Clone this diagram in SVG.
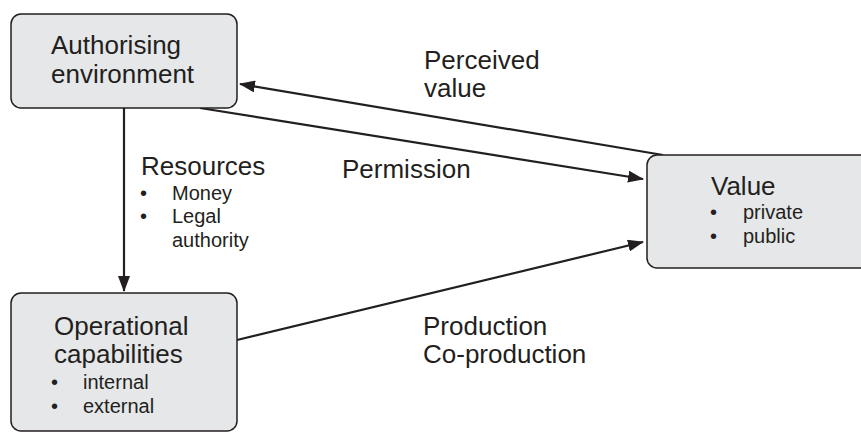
<svg xmlns="http://www.w3.org/2000/svg" width="861" height="432" viewBox="0 0 861 432">
<defs>
<style>
.box{fill:#e6e7e8;stroke:#231f20;stroke-width:1.5}
.t{font-family:"Liberation Sans",Arial,sans-serif;fill:#231f20}
.big{font-size:26px}
.sm{font-size:20px}
.ln{stroke:#231f20;stroke-width:2.2;fill:none}
</style>
<marker id="ah" viewBox="0 0 16 12" refX="15" refY="6" markerWidth="16" markerHeight="12" markerUnits="userSpaceOnUse" orient="auto">
<path d="M0,0 L16,6 L0,12 Z" fill="#231f20"/>
</marker>
</defs>
<rect width="861" height="432" fill="#fff"/>
<g id="connectors">
<line class="ln" x1="124" y1="108" x2="124" y2="291" marker-end="url(#ah)"/>
<line class="ln" x1="663" y1="155" x2="240" y2="84" marker-end="url(#ah)"/>
<line class="ln" x1="200" y1="108" x2="643" y2="179" marker-end="url(#ah)"/>
<line class="ln" x1="237" y1="340" x2="643" y2="242" marker-end="url(#ah)"/>
</g>
<g id="authorising">
<rect class="box" x="11" y="14" width="226" height="94" rx="10"/>
<text class="t big" x="51" y="54">Authorising</text>
<text class="t big" x="51" y="83">environment</text>
</g>
<g id="operational">
<rect class="box" x="11" y="293" width="226" height="138" rx="10"/>
<text class="t big" x="54" y="335" font-size="25.5">Operational</text>
<text class="t big" x="54" y="363" font-size="25.5">capabilities</text>
<text class="t sm" x="51" y="389">•</text>
<text class="t sm" x="83" y="389">internal</text>
<text class="t sm" x="51" y="413">•</text>
<text class="t sm" x="83" y="413">external</text>
</g>
<g id="value">
<rect class="box" x="647" y="155" width="230" height="113" rx="10"/>
<text class="t big" x="711" y="195">Value</text>
<text class="t sm" x="710" y="219">•</text>
<text class="t sm" x="743" y="219">private</text>
<text class="t sm" x="710" y="243">•</text>
<text class="t sm" x="743" y="243">public</text>
</g>
<g id="labels">
<text class="t big" x="141" y="175">Resources</text>
<text class="t sm" x="140" y="200">•</text>
<text class="t sm" x="172" y="200">Money</text>
<text class="t sm" x="140" y="223">•</text>
<text class="t sm" x="172" y="223">Legal</text>
<text class="t sm" x="172" y="247">authority</text>
<text class="t big" x="424" y="69">Perceived</text>
<text class="t big" x="424" y="97">value</text>
<text class="t big" x="342" y="178">Permission</text>
<text class="t big" x="423" y="335">Production</text>
<text class="t big" x="423" y="363">Co-production</text>
</g>
</svg>
